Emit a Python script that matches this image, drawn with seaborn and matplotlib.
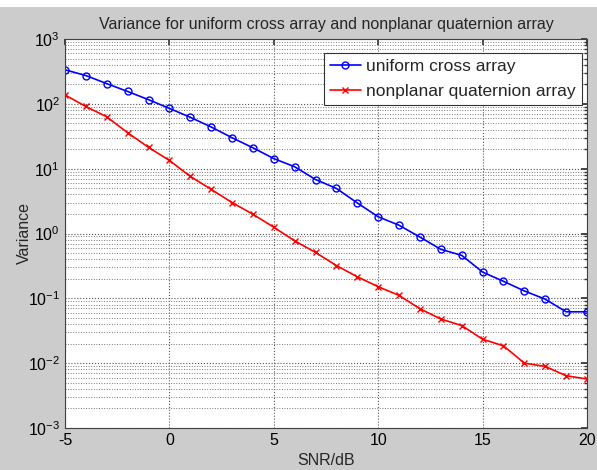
import numpy as np
import pandas as pd
import matplotlib
matplotlib.use("Agg")
import matplotlib.pyplot as plt
import seaborn as sns
from matplotlib.ticker import LogLocator, FixedLocator, NullFormatter
from matplotlib.patches import Rectangle

snr = list(range(-5, 21))
uniform_cross = [335, 273, 205, 155, 116, 85, 62, 44, 30, 21, 14.3, 10.7, 6.8, 4.95,
                 2.96, 1.81, 1.34, 0.88, 0.57, 0.46, 0.254, 0.183, 0.130, 0.097, 0.062, 0.062]
nonplanar_quat = [137, 91, 63, 35.8, 21.3, 13.4, 7.6, 4.8, 3.0, 1.98, 1.25, 0.77, 0.51, 0.32,
                  0.215, 0.151, 0.111, 0.069, 0.048, 0.038, 0.0234, 0.0185, 0.0100, 0.0089, 0.0064, 0.0057]
labels = ["uniform cross array", "nonplanar quaternion array"]
title = "Variance for uniform cross array and nonplanar quaternion array"
xticks = [-5, 0, 5, 10, 15, 20]

sns.set_theme(style="white")
plt.rcParams['font.family'] = ['Liberation Sans', 'DejaVu Sans']
plt.rcParams['mathtext.fontset'] = 'custom'
plt.rcParams['mathtext.rm'] = 'Liberation Sans'

fig = plt.figure(figsize=(5.97, 4.70), dpi=100, facecolor='#cccccc')
fig.patches.append(Rectangle((0, 1 - 7 / 470), 1, 7 / 470, transform=fig.transFigure,
                             facecolor='white', edgecolor='none', zorder=-1))
ax = fig.add_axes([65 / 597, 1 - 428 / 470, (587 - 65) / 597, (428 - 39) / 470])
ax.set_facecolor('white')

df = pd.DataFrame({"snr": snr * 2,
                   "var": uniform_cross + nonplanar_quat,
                   "series": [labels[0]] * len(snr) + [labels[1]] * len(snr)})

sns.lineplot(data=df[df.series == labels[0]], x="snr", y="var", ax=ax, color='#0000ff',
             marker='o', markersize=5, markerfacecolor='none', markeredgecolor='#0000ff',
             markeredgewidth=1, linewidth=1.2, label=labels[0])
sns.lineplot(data=df[df.series == labels[1]], x="snr", y="var", ax=ax, color='#ff0000',
             marker='x', markersize=4.5, markeredgecolor='#ff0000', markeredgewidth=1,
             linewidth=1.2, label=labels[1])

ax.set_yscale('log')
ax.set_xlim(-5, 20)
ax.set_ylim(1e-3, 1e3)
ax.xaxis.set_major_locator(FixedLocator(xticks))
ax.set_xticklabels([str(t) for t in xticks])
ax.yaxis.set_major_locator(LogLocator(base=10, numticks=10))
ax.yaxis.set_minor_locator(LogLocator(base=10, subs=np.arange(2, 10), numticks=100))
ax.yaxis.set_minor_formatter(NullFormatter())

ax.grid(True, which='major', axis='both', linestyle=':', color='#555555', linewidth=0.8)
ax.grid(True, which='minor', axis='y', linestyle=':', color='#777777', linewidth=0.7)

ax.tick_params(which='both', direction='in', top=True, right=True, labelsize=11.5,
               colors='#333333', labelcolor='black')
ax.tick_params(which='major', length=4)
ax.tick_params(which='minor', length=2)
for s in ax.spines.values():
    s.set_color('#404040')
    s.set_linewidth(0.8)

ax.set_xlabel("SNR/dB", fontsize=11.5, labelpad=4)
ax.set_ylabel("Variance", fontsize=11.5, labelpad=-3)
ax.set_title(title, fontsize=11.5, pad=7)

leg = ax.legend(loc='upper right', bbox_to_anchor=(1.0, 1 - 9 / 389), fontsize=12.5,
                frameon=True, fancybox=False, edgecolor='#333333', framealpha=1,
                handlelength=1.8, handletextpad=0.3, borderpad=0.35, labelspacing=0.55,
                borderaxespad=0.3)
leg.get_frame().set_linewidth(0.8)

fig.savefig("out.png", dpi=100, facecolor=fig.get_facecolor())
